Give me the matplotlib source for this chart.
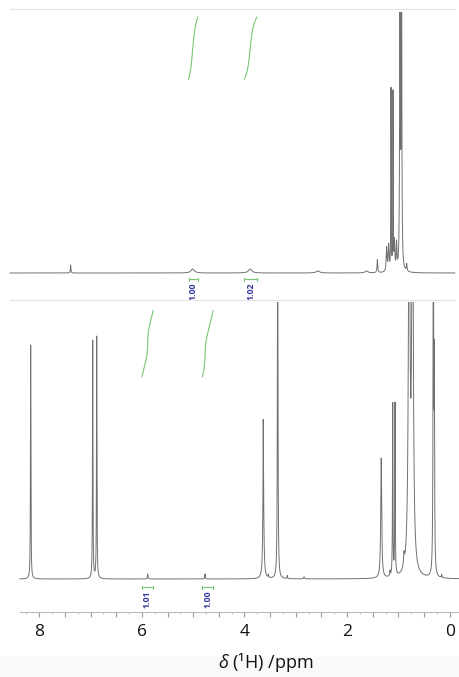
import numpy as np
import matplotlib.pyplot as plt
from matplotlib.ticker import FixedLocator, FuncFormatter
from matplotlib.patches import Rectangle

plt.rcParams['font.family'] = ['Open Sans', 'DejaVu Sans']
plt.rcParams['mathtext.fontset'] = 'custom'
plt.rcParams['mathtext.it'] = 'Open Sans:italic'
plt.rcParams['mathtext.rm'] = 'Open Sans'

# upper spectrum: peak positions (ppm), heights, half widths (ppm)
top_ppm = [7.39, 5.01, 3.89, 2.57, 1.62, 1.41, 1.23, 1.19, 1.144, 1.105, 1.076, 1.037, 0.969, 0.940, 0.838]
top_height = [8, 4, 4, 2, 2, 13, 24, 26, 181, 177, 28, 26, 420, 420, 7]
top_width = [0.006, 0.04, 0.04, 0.04, 0.03, 0.008, 0.01, 0.01, 0.004, 0.004, 0.008, 0.008, 0.006, 0.006, 0.008]

# lower spectrum
bot_ppm = [8.168, 6.959, 6.881, 5.887, 4.770, 3.635, 3.633, 3.535, 3.353, 3.166, 2.84,
           1.335, 1.164, 1.111, 1.066, 0.891, 0.790, 0.725, 0.319, 0.300, 0.156]
bot_height = [234, 238, 242, 5, 5, 62, 100, 3, 420, 3, 2,
              120, 5, 172, 172, 12, 420, 420, 420, 200, 3]
bot_width = [0.005, 0.005, 0.005, 0.006, 0.006, 0.003, 0.012, 0.005, 0.006, 0.005, 0.01,
             0.011, 0.006, 0.005, 0.005, 0.01, 0.017, 0.017, 0.006, 0.006, 0.006]

# integral regions (ppm limits) and their values
top_int_hi = [5.09, 4.00]
top_int_lo = [4.91, 3.76]
top_int_labels = ['1.00', '1.02']
bot_int_hi = [6.00, 4.82]
bot_int_lo = [5.78, 4.61]
bot_int_labels = ['1.01', '1.00']

ticks_major = np.arange(0, 8.01, 0.5)
ticks_minor = np.arange(-0.25, 8.3, 0.25)


def spectrum(x, pos, hgt, wid):
    y = np.zeros_like(x)
    for p, h, w in zip(pos, hgt, wid):
        y += h * w**2 / ((x - p)**2 + w**2)
    return y


W, H = 460, 677
fig = plt.figure(figsize=(W / 100, H / 100), dpi=100)
fig.patches.append(Rectangle((0, 0), 1, 20 / H, transform=fig.transFigure,
                             color='#f9f9f9', zorder=0))

px_per_ppm = 51.3
x0 = 449.7  # pixel of 0 ppm
xlim = (x0 / px_per_ppm, (x0 - W) / px_per_ppm)

line_col = '#707070'
green = '#7cc576'
navy = '#34349e'


def draw_panel(ax, x, y, int_hi, int_lo, labels, iy0, iy1, label_y):
    ax.plot(x, y, color=line_col, lw=0.7)
    for hi, lo, lab in zip(int_hi, int_lo, labels):
        m = (x <= hi) & (x >= lo)
        seg = y[m] + 0.15 * y[m].max()
        cum = np.cumsum(seg)
        cum = (cum - cum[0]) / (cum[-1] - cum[0])
        ax.plot(x[m], iy0 + cum * (iy1 - iy0), color=green, lw=0.8)
        # bracket under the peak
        ax.plot([hi, lo], [label_y, label_y], color=green, lw=0.8)
        for e in (hi, lo):
            ax.plot([e, e], [label_y - 1.5, label_y + 1.5], color=green, lw=0.8)
        ax.text((hi + lo) / 2, label_y - 3, lab, rotation=90, ha='center', va='top',
                fontsize=6.3, color=navy, fontweight='bold', clip_on=True)


# top panel: pixel rows 12..300, baseline at row 273
ax1 = fig.add_axes([0, (H - 300) / H, 1, 288 / H])
x_top = np.arange(8.57, -0.10, -0.0005)
y_top = spectrum(x_top, top_ppm, top_height, top_width)
ax1.set_xlim(*xlim)
ax1.set_ylim(273 - 300, 273 - 12)
draw_panel(ax1, x_top, y_top, top_int_hi, top_int_lo, top_int_labels,
           273 - 79, 273 - 17, -6)
ax1.axhline(273 - 9, xmin=10 / W, xmax=455 / W, color='#e4e4e4', lw=0.9, clip_on=False)
ax1.axis('off')

# bottom panel: pixel rows 302..612, baseline at row 579
ax2 = fig.add_axes([0, (H - 612) / H, 1, 310 / H])
ax2.set_facecolor('white')
x_bot = np.arange(8.38, -0.20, -0.0005)
y_bot = spectrum(x_bot, bot_ppm, bot_height, bot_width)
ax2.set_xlim(*xlim)
ax2.set_ylim(579 - 612, 579 - 302)
draw_panel(ax2, x_bot, y_bot, bot_int_hi, bot_int_lo, bot_int_labels,
           579 - 376.7, 579 - 310.7, -8)
ax2.axhline(579 - 300, xmin=10 / W, xmax=455 / W, color='#e4e4e4', lw=0.9, clip_on=False)

for s in ['top', 'left', 'right']:
    ax2.spines[s].set_visible(False)
ax2.spines['bottom'].set_color('#bdbdbd')
ax2.spines['bottom'].set_linewidth(0.8)
ax2.spines['bottom'].set_bounds(-0.25, (x0 - 20) / px_per_ppm)
ax2.set_yticks([])
ax2.xaxis.set_major_locator(FixedLocator(ticks_major))
ax2.xaxis.set_minor_locator(FixedLocator(ticks_minor))
ax2.xaxis.set_major_formatter(FuncFormatter(lambda v, p: f"{v:.0f}" if abs(v % 2) < 1e-6 else ""))
ax2.tick_params(axis='x', which='major', length=3.5, width=0.8, color='#9a9a9a',
                labelsize=12.5, pad=5, labelcolor='#111111')
ax2.tick_params(axis='x', which='minor', length=1.5, width=0.6, color='#b0b0b0')

fig.text(266 / W, 1 - 662 / H, r"$\delta$ (¹H) /ppm", ha='center', va='center',
         fontsize=13, color='#111111')

fig.savefig('out.png', dpi=100)
